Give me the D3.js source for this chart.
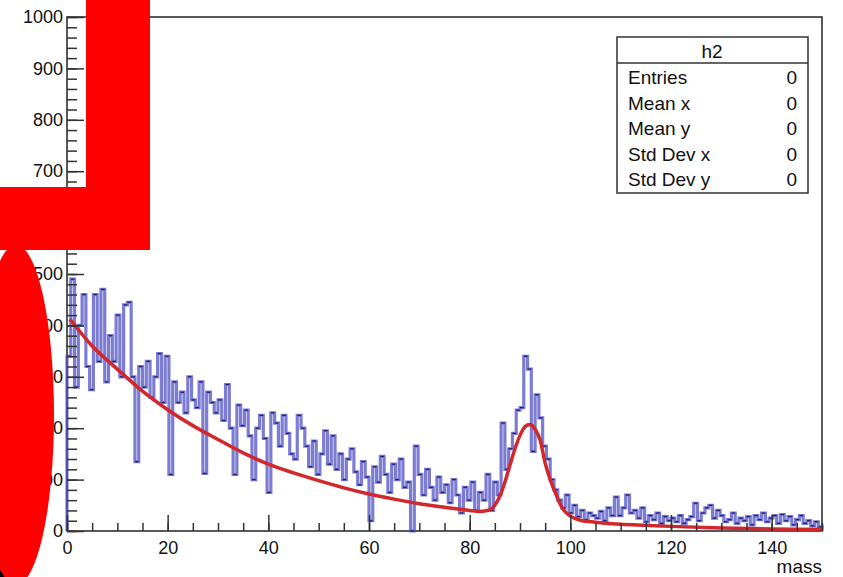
<!DOCTYPE html>
<html>
<head>
<meta charset="utf-8">
<script src="https://cdn.jsdelivr.net/npm/d3@7"></script>
<style>
  body { margin: 0; background: #fff; }
  text { font-family: "Liberation Sans", Arial, sans-serif; fill: #111; }
</style>
</head>
<body>
<div id="chart"></div>
<script>
var width = 843;
var height = 577;

// histogram h2: 200 bins from 0 to 150 (mass)
var xMin = 0, xMax = 150;
var binValues = [
    340, 490, 280, 400, 460, 320, 275, 460, 330, 470,
    290, 380, 330, 420, 300, 440, 445, 300, 135, 320,
    280, 330, 260, 300, 345, 250, 340, 110, 290, 250,
    270, 230, 300, 255, 240, 290, 112, 270, 250, 230,
    255, 215, 285, 200, 110, 245, 205, 235, 185, 100,
    200, 225, 180, 75, 230, 210, 165, 225, 190, 150,
    140, 225, 200, 165, 125, 175, 110, 150, 195, 130,
    185, 120, 150, 100, 140, 160, 115, 90, 135, 105,
    20, 125, 95, 145, 110, 75, 130, 100, 140, 85,
    95, 0, 165, 110, 70, 120, 85, 60, 105, 75,
    90, 55, 100, 70, 35, 85, 60, 95, 40, 75,
    60, 110, 40, 95, 70, 210, 120, 160, 190, 235,
    240, 340, 315, 155, 265, 220, 165, 140, 100, 80,
    60, 45, 70, 35, 50, 28, 40, 22, 35, 30,
    25, 38, 20, 45, 30, 66, 30, 45, 70, 35,
    40, 25, 45, 18, 30, 22, 35, 15, 28, 20,
    25, 18, 30, 15, 22, 28, 54, 20, 35, 45,
    50, 25, 40, 30, 18, 22, 35, 15, 25, 20,
    28, 12, 30, 22, 35, 18, 25, 30, 15, 32,
    20, 28, 12, 22, 30, 15, 20, 10, 18, 8
];

// fitted curve (background + peak)
var fitX = [0.6, 5, 10, 15, 20, 25, 30, 35, 40, 45, 50, 55, 60, 65, 70, 75, 80, 82, 84, 85, 86, 87, 88, 89, 90, 91, 92, 93, 94, 95, 96, 97, 98, 99, 100, 102, 105, 107, 110, 115, 120, 130, 140, 150];
var fitY = [412, 360, 315, 272, 236, 205, 178, 152, 130, 113, 98, 84, 72, 62, 53, 46, 40, 38, 41, 50, 68, 95, 128, 160, 186, 203, 207, 198, 177, 132, 100, 75, 52, 37, 29, 21, 17, 15, 13, 11, 9, 6, 4, 3];

var xTicks = [0, 20, 40, 60, 80, 100, 120, 140];
var yTicks = [0, 100, 200, 300, 400, 500, 600, 700, 800, 900, 1000];

var statNames = ['Entries', 'Mean x', 'Mean y', 'Std Dev x', 'Std Dev y'];
var statValues = ['0', '0', '0', '0', '0'];

var frameL = 67, frameR = 822, frameT = 17, frameB = 531;

var svg = d3.select("#chart")
            .append("svg")
            .attr("width", width)
            .attr("height", height);

var x = d3.scaleLinear().domain([xMin, xMax]).range([frameL, frameR]);
var y = d3.scaleLinear().domain([0, 1000]).range([frameB, frameT]);

// frame
svg.append("rect")
    .attr("x", frameL).attr("y", frameT)
    .attr("width", frameR - frameL).attr("height", frameB - frameT)
    .attr("fill", "none").attr("stroke", "#222").attr("stroke-width", 1.5);

// histogram as a step line
var binW = (xMax - xMin) / binValues.length;
var pts = [[x(xMin), y(0)]];
binValues.forEach(function(v, i) {
    pts.push([x(xMin + i * binW), y(v)]);
    pts.push([x(xMin + (i + 1) * binW), y(v)]);
});
pts.push([x(xMax), y(0)]);

svg.append("path")
    .attr("d", d3.line()(pts))
    .attr("fill", "none")
    .attr("stroke", "rgba(80,80,195,0.75)")
    .attr("stroke-width", 3.2);

svg.selectAll("line.top")
    .data(binValues)
    .enter()
    .append("line")
    .attr("class", "top")
    .attr("x1", function(d, i) { return x(xMin + i * binW); })
    .attr("x2", function(d, i) { return x(xMin + (i + 1) * binW); })
    .attr("y1", function(d) { return y(d); })
    .attr("y2", function(d) { return y(d); })
    .attr("stroke", "#1d1d7c")
    .attr("stroke-width", 1.3);

// fit function
svg.append("path")
    .datum(fitX.map(function(d, i) { return [d, fitY[i]]; }))
    .attr("d", d3.line()
        .x(function(d) { return x(d[0]); })
        .y(function(d) { return y(d[1]); })
        .curve(d3.curveMonotoneX))
    .attr("fill", "none")
    .attr("stroke", "#d2282c")
    .attr("stroke-width", 3.5);

// axes: ticks drawn inside the frame
svg.append("g")
    .attr("transform", "translate(" + frameL + ",0)")
    .call(d3.axisLeft(y).tickValues(yTicks).tickFormat(d3.format("d")).tickSize(-17).tickPadding(4));
svg.append("g")
    .attr("transform", "translate(" + frameL + ",0)")
    .call(d3.axisLeft(y).ticks(50).tickSize(-10).tickFormat(""));

svg.append("g")
    .attr("transform", "translate(0," + frameB + ")")
    .call(d3.axisBottom(x).tickValues(xTicks).tickFormat(d3.format("d")).tickSize(-16).tickPadding(10));
svg.append("g")
    .attr("transform", "translate(0," + frameB + ")")
    .call(d3.axisBottom(x).ticks(30).tickSize(-8).tickFormat(""));

svg.selectAll(".domain").remove();
svg.selectAll(".tick line").attr("stroke", "#333").attr("stroke-width", 1.5);
svg.selectAll(".tick text").style("font-size", "18px").attr("fill", "#111");

svg.append("text")
    .attr("x", frameR).attr("y", 573)
    .attr("text-anchor", "end")
    .style("font-size", "19px")
    .text("mass");

// stats box
var sb = svg.append("g");
sb.append("rect")
    .attr("x", 617).attr("y", 37)
    .attr("width", 191).attr("height", 156)
    .attr("fill", "#fff").attr("stroke", "#333").attr("stroke-width", 1.5);
sb.append("line")
    .attr("x1", 617).attr("x2", 808).attr("y1", 63).attr("y2", 63)
    .attr("stroke", "#333").attr("stroke-width", 1.5);
sb.append("text")
    .attr("x", 712).attr("y", 58)
    .attr("text-anchor", "middle")
    .style("font-size", "19px")
    .text("h2");
sb.selectAll("text.name")
    .data(statNames)
    .enter()
    .append("text")
    .attr("class", "name")
    .attr("x", 628)
    .attr("y", function(d, i) { return 84 + i * 25.5; })
    .style("font-size", "19px")
    .text(function(d) { return d; });
sb.selectAll("text.val")
    .data(statValues)
    .enter()
    .append("text")
    .attr("class", "val")
    .attr("x", 797)
    .attr("y", function(d, i) { return 84 + i * 25.5; })
    .attr("text-anchor", "end")
    .style("font-size", "19px")
    .text(function(d) { return d; });

// red overlay shapes on top
svg.append("rect")
    .attr("x", 0).attr("y", 545).attr("width", 14).attr("height", 32)
    .attr("fill", "#000");
svg.append("ellipse")
    .attr("cx", 16).attr("cy", 415)
    .attr("rx", 38).attr("ry", 170)
    .attr("fill", "#ff0000");
svg.append("rect")
    .attr("x", 86).attr("y", 0).attr("width", 64).attr("height", 250)
    .attr("fill", "#ff0000");
svg.append("rect")
    .attr("x", 0).attr("y", 187).attr("width", 150).attr("height", 63)
    .attr("fill", "#ff0000");
</script>
</body>
</html>
